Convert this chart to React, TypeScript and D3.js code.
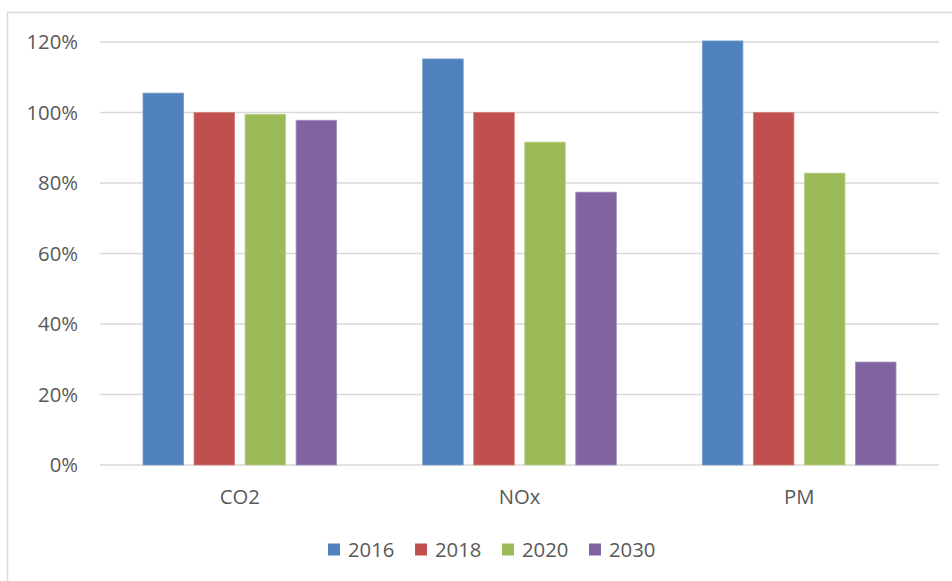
import React from "react";
import * as d3 from "d3";

const categories = ["CO2", "NOx", "PM"];
const seriesNames = ["2016", "2018", "2020", "2030"];
const values2016 = [1.055, 1.152, 1.203];
const values2018 = [1.0, 1.0, 1.0];
const values2020 = [0.995, 0.916, 0.828];
const values2030 = [0.978, 0.774, 0.292];
const yTicks = [0, 0.2, 0.4, 0.6, 0.8, 1.0, 1.2];
const colors = ["#4F81BD", "#C0504D", "#9BBB59", "#8064A2"];
const strokes = ["#7a9fd0", "#d27f7c", "#b9d18a", "#a28dbd"];

export default function App() {
  const W = 952, H = 581;
  const left = 100, right = 939, top = 42, bottom = 465;
  const series = [values2016, values2018, values2020, values2030];
  const x0 = d3.scaleBand<string>().domain(categories).range([left, right]).paddingInner(0).paddingOuter(0);
  const x1 = d3.scaleBand<string>().domain(seriesNames).range([43, x0.bandwidth() - 43]).paddingInner(0.205).paddingOuter(0);
  const y = d3.scaleLinear().domain([0, 1.2]).range([bottom, top]);
  const font = "'Open Sans', sans-serif";
  const textColor = "#595959";
  const legendX = 328;
  const legendStep = 87;
  const fs = 20.3;
  return (
    <svg width={W} height={H} style={{ position: "absolute", left: 0, top: 0, background: "#fff" }}>
      <path d={`M7.5,${H} V12.5 H${W}`} fill="none" stroke="#d9d9d9" strokeWidth={1.5} />
      {yTicks.map((t) => (
        <g key={t}>
          <line x1={left} x2={right} y1={y(t)} y2={y(t)} stroke="#d9d9d9" strokeWidth={1.6} />
          <text x={78} y={y(t)} dy="0.35em" textAnchor="end" fontFamily={font} fontSize={fs} fill={textColor}>
            {d3.format(".0%")(t)}
          </text>
        </g>
      ))}
      {categories.map((c, ci) => (
        <g key={c} transform={`translate(${x0(c)},0)`}>
          {seriesNames.map((s, si) => (
            <rect
              key={s}
              x={x1(s)}
              y={y(series[si][ci])}
              width={x1.bandwidth()}
              height={bottom - y(series[si][ci])}
              fill={colors[si]}
              stroke={strokes[si]}
              strokeWidth={0.8}
            />
          ))}
          <text x={x0.bandwidth() / 2} y={497} dy="0.35em" textAnchor="middle" fontFamily={font} fontSize={fs} fill={textColor}>
            {c}
          </text>
        </g>
      ))}
      {seriesNames.map((s, si) => (
        <g key={s} transform={`translate(${legendX + si * legendStep},0)`}>
          <rect x={0} y={543.5} width={12} height={12} fill={colors[si]} />
          <text x={20} y={549.5} dy="0.35em" fontFamily={font} fontSize={fs} fill={textColor}>
            {s}
          </text>
        </g>
      ))}
    </svg>
  );
}
